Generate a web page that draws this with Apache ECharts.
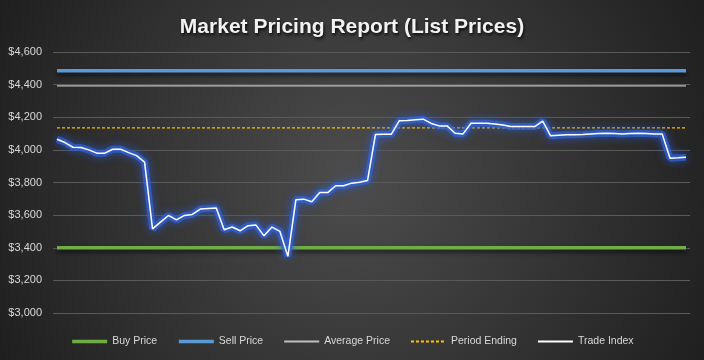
<!DOCTYPE html>
<html>
<head>
<meta charset="utf-8">
<script src="https://cdn.jsdelivr.net/npm/echarts@6/dist/echarts.min.js"></script>
<style>html,body{margin:0;padding:0;background:#333;}#c{width:704px;height:360px;}</style>
</head>
<body>
<div id="c"></div>
<script>
const titleText = 'Market Pricing Report (List Prices)';
const seriesNames = ['Buy Price', 'Sell Price', 'Average Price', 'Period Ending', 'Trade Index'];
const yTicks = [3000, 3200, 3400, 3600, 3800, 4000, 4200, 4400, 4600];
const buyPrice = 3400;
const sellPrice = 4485;
const averagePrice = 4392;
const periodEnding = 4135;
const tradeIndex = [
  4065, 4045, 4016, 4014, 4000, 3980, 3980, 4004, 4004, 3983,
  3965, 3925, 3516, 3557, 3598, 3571, 3598, 3604, 3637, 3641,
  3643, 3510, 3527, 3504, 3535, 3539, 3473, 3527, 3500, 3347,
  3694, 3698, 3682, 3738, 3738, 3780, 3780, 3796, 3802, 3812,
  4095, 4096, 4096, 4179, 4180, 4184, 4188, 4162, 4147, 4147,
  4102, 4098, 4163, 4163, 4163, 4159, 4153, 4143, 4143, 4143,
  4143, 4176, 4086, 4089, 4092, 4093, 4095, 4098, 4100, 4102,
  4100, 4098, 4100, 4102, 4100, 4098, 4098, 3949, 3951, 3955
];
const periods = tradeIndex.map((v, i) => 'P' + (i + 1));

const chart = echarts.init(document.getElementById('c'), null, {renderer: 'canvas'});
const fontFam = '"Liberation Sans", Arial, sans-serif';
const flat = v => periods.map(() => v);

chart.setOption({
  animation: false,
  backgroundColor: {
    type: 'radial', x: 0.5, y: 0.5, r: 1.1,
    colorStops: [{offset: 0, color: '#4d4d4d'}, {offset: 1, color: '#1f1f1f'}]
  },
  title: {
    text: titleText, left: 'center', top: 12,
    textStyle: {
      color: '#f2f2f2', fontSize: 21, fontWeight: 'bold', fontFamily: fontFam,
      textShadowColor: 'rgba(0,0,0,0.8)', textShadowBlur: 3, textShadowOffsetX: 1, textShadowOffsetY: 2
    }
  },
  legend: {
    data: [
      {name: seriesNames[0], lineStyle: {width: 3.5, shadowBlur: 0, shadowOffsetY: 0}},
      {name: seriesNames[1], lineStyle: {width: 3.5, shadowBlur: 0, shadowOffsetY: 0}},
      {name: seriesNames[2]},
      {name: seriesNames[3]},
      {name: seriesNames[4]}
    ],
    left: 'center', top: 331, itemWidth: 35, itemHeight: 14, itemGap: 20,
    itemStyle: {opacity: 0},
    textStyle: {color: '#d9d9d9', fontSize: 10.5, fontFamily: fontFam}
  },
  grid: {left: 53, right: 14, top: 52, bottom: 47},
  xAxis: {
    type: 'category', data: periods, boundaryGap: true,
    axisLine: {show: false}, axisTick: {show: false}, axisLabel: {show: false}, splitLine: {show: false}
  },
  yAxis: {
    type: 'value', min: yTicks[0], max: yTicks[yTicks.length - 1], interval: 200,
    axisLine: {show: false}, axisTick: {show: false},
    axisLabel: {
      color: '#d9d9d9', fontSize: 11, fontFamily: fontFam, margin: 11,
      formatter: v => '$' + v.toLocaleString('en-US')
    },
    splitLine: {lineStyle: {color: '#5a5a5a', width: 1}}
  },
  series: [
    {name: 'Buy Price', type: 'line', data: flat(buyPrice), symbol: 'none',
     lineStyle: {color: '#70ad47', width: 3.5, shadowColor: 'rgba(0,0,0,0.6)', shadowBlur: 4, shadowOffsetY: 3},
     itemStyle: {color: '#70ad47'}, z: 3},
    {name: 'Sell Price', type: 'line', data: flat(sellPrice), symbol: 'none',
     lineStyle: {color: '#5b9bd5', width: 3.5, shadowColor: 'rgba(0,0,0,0.6)', shadowBlur: 4, shadowOffsetY: 3},
     itemStyle: {color: '#5b9bd5'}, z: 3},
    {name: 'Average Price', type: 'line', data: flat(averagePrice), symbol: 'none',
     lineStyle: {color: '#bfbfbf', width: 1.2},
     itemStyle: {color: '#bfbfbf'}, z: 3},
    {name: 'Period Ending', type: 'line', data: flat(periodEnding), symbol: 'none',
     lineStyle: {color: '#ffc000', width: 1.2, type: [3, 2]},
     itemStyle: {color: '#ffc000'}, z: 3},
    {name: 'glow', type: 'line', data: tradeIndex, symbol: 'none', silent: true,
     lineStyle: {color: 'rgba(50,100,215,0.7)', width: 7, shadowColor: 'rgba(40,90,220,1)', shadowBlur: 9},
     z: 4},
    {name: 'Trade Index', type: 'line', data: tradeIndex, symbol: 'none',
     lineStyle: {color: '#ffffff', width: 1.5},
     itemStyle: {color: '#ffffff'}, z: 5}
  ]
});
</script>
</body>
</html>
